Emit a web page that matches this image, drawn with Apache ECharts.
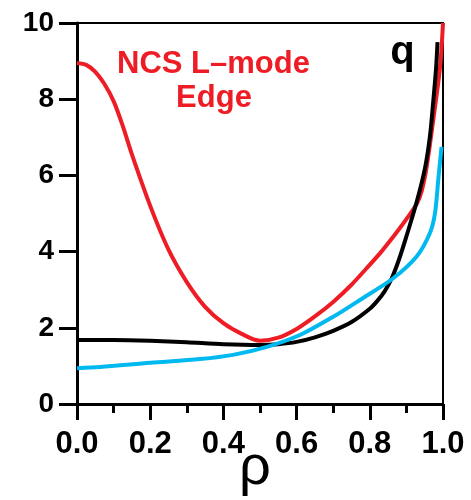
<!DOCTYPE html>
<html>
<head>
<meta charset="utf-8">
<script src="https://cdn.jsdelivr.net/npm/echarts@6/dist/echarts.min.js"></script>
<style>
html,body{margin:0;padding:0;background:#fff;}
#chart{width:471px;height:500px;}
</style>
</head>
<body>
<div id="chart"></div>
<script>
// Data
const rhoRed = [0, 0.025, 0.05, 0.075, 0.1, 0.125, 0.15, 0.2, 0.25, 0.3, 0.35, 0.4, 0.45, 0.5, 0.55, 0.6, 0.65, 0.7, 0.75, 0.79, 0.83, 0.873, 0.90, 0.928, 0.942, 0.955, 0.974, 0.992, 1.0];
const qRed   = [8.95, 8.9, 8.72, 8.4, 7.95, 7.3, 6.55, 5.2, 4.05, 3.2, 2.55, 2.12, 1.84, 1.66, 1.74, 1.97, 2.3, 2.68, 3.13, 3.55, 3.98, 4.5, 4.85, 5.25, 5.6, 6.2, 7.5, 8.85, 10.0];

const rhoBlack = [0, 0.1, 0.2, 0.3, 0.4, 0.5, 0.55, 0.6, 0.65, 0.7, 0.75, 0.8, 0.82, 0.84, 0.86, 0.88, 0.9, 0.928, 0.951, 0.964, 0.973, 0.981, 0.985];
const qBlack   = [1.68, 1.68, 1.66, 1.62, 1.57, 1.55, 1.57, 1.63, 1.75, 1.92, 2.15, 2.5, 2.7, 2.95, 3.3, 3.8, 4.4, 5.3, 6.2, 7.0, 7.9, 8.8, 9.5];

const rhoCyan = [0, 0.063, 0.2, 0.336, 0.426, 0.519, 0.609, 0.70, 0.773, 0.864, 0.928, 0.964, 0.978, 0.987, 0.996];
const qCyan   = [0.94, 0.97, 1.08, 1.18, 1.29, 1.5, 1.81, 2.29, 2.73, 3.3, 3.87, 4.48, 5.0, 5.88, 6.75];

const xTickLabels = ['0.0', '0.2', '0.4', '0.6', '0.8', '1.0'];
const yTickLabels = ['0', '2', '4', '6', '8', '10'];

const label1 = 'NCS L–mode';
const label2 = 'Edge';
const qLabel = 'q';
const xName = 'ρ';

function pairs(xs, ys) { return xs.map((x, i) => [x, ys[i]]); }

const FONT = "'Liberation Sans', Arial, Helvetica, sans-serif";
const chart = echarts.init(document.getElementById('chart'), null, {renderer: 'canvas'});

chart.setOption({
  animation: false,
  backgroundColor: '#fff',
  grid: {left: 77, right: 28, top: 23, bottom: 96, show: true, borderColor: '#000', borderWidth: 2, backgroundColor: 'transparent'},
  xAxis: {
    type: 'value', min: 0, max: 1, interval: 0.2,
    axisLine: {show: true, onZero: false, lineStyle: {color: '#000', width: 3}},
    axisTick: {show: true, inside: false, length: 16, lineStyle: {color: '#000', width: 3}},
    minorTick: {show: true, splitNumber: 2, length: 9, lineStyle: {color: '#000', width: 3}},
    splitLine: {show: false},
    minorSplitLine: {show: false},
    axisLabel: {
      margin: 25, color: '#000', fontFamily: FONT, fontWeight: 'bold', fontSize: 31,
      formatter: v => xTickLabels[Math.round(v / 0.2)]
    }
  },
  yAxis: {
    type: 'value', min: 0, max: 10, interval: 2,
    axisLine: {show: true, onZero: false, lineStyle: {color: '#000', width: 3}},
    axisTick: {show: true, inside: false, length: 18, lineStyle: {color: '#000', width: 3}},
    splitLine: {show: false},
    axisLabel: {
      margin: 23, color: '#000', fontFamily: FONT, fontWeight: 'bold', fontSize: 28,
      formatter: v => yTickLabels[Math.round(v / 2)]
    }
  },
  series: [
    {type: 'line', data: pairs(rhoRed, qRed), smooth: 0.3, showSymbol: false, lineStyle: {color: '#ee1c25', width: 4}, z: 2},
    {type: 'line', data: pairs(rhoBlack, qBlack), smooth: 0.3, showSymbol: false, lineStyle: {color: '#000', width: 4}, z: 3},
    {type: 'line', data: pairs(rhoCyan, qCyan), smooth: 0.3, showSymbol: false, lineStyle: {color: '#00b9f1', width: 4}, z: 4}
  ],
  graphic: [
    {type: 'text', x: 213.5, y: 64.5, style: {text: label1, fill: '#ee1c25', font: 'bold 31px ' + FONT, textAlign: 'center', textVerticalAlign: 'middle'}},
    {type: 'text', x: 214, y: 98, style: {text: label2, fill: '#ee1c25', font: 'bold 31px ' + FONT, textAlign: 'center', textVerticalAlign: 'middle'}},
    {type: 'text', x: 402.5, y: 52.6, style: {text: qLabel, fill: '#000', font: 'bold 40px ' + FONT, textAlign: 'center', textVerticalAlign: 'middle'}},
    {type: 'text', x: 255, y: 468.6, style: {text: xName, fill: '#000', font: '56px ' + FONT, textAlign: 'center', textVerticalAlign: 'middle'}}
  ]
});
</script>
</body>
</html>
